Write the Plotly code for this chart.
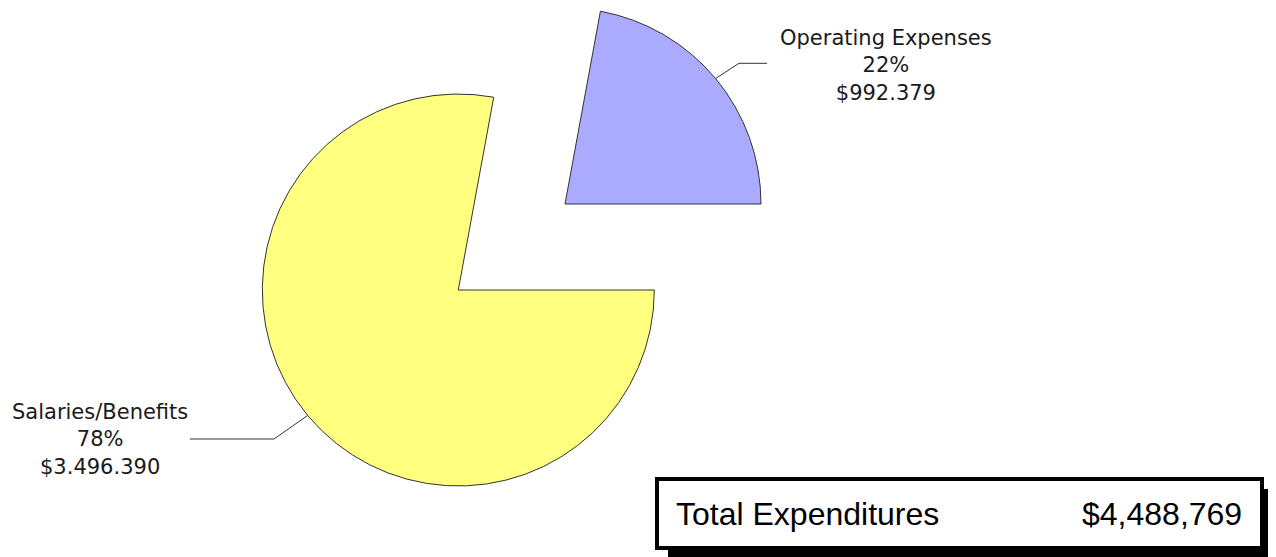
import math
import plotly.graph_objects as go

# ---- data ----
categories = ["Operating Expenses", "Salaries/Benefits"]
amounts = [992379, 3496390]
pct_labels = ["22%", "78%"]
amount_labels = ["$992.379", "$3.496.390"]
total_label = "Total Expenditures"
total_value = "$4,488,769"
colors = ["#AAAAFF", "#FFFF80"]

W, H = 1276, 557
OFF = 8  # page body margin in the browser
total = sum(amounts)
rotation = 90 - 360 * amounts[0] / total


def px(x):
    return (x - OFF) / W


def py(y):
    return 1 - (y - OFF) / H


def clamp(v):
    return min(1.0, max(0.0, v))


R = 196
main_c = (458.3, 290.0)      # centre of the main pie (screen px)
pull_c = (565.0, 204.0)      # centre of the pulled-out slice (screen px)

fig = go.Figure()


def pie_trace(center, show_idx):
    cx, cy = center
    fills = [colors[i] if i == show_idx else "rgba(0,0,0,0)" for i in range(len(amounts))]
    lines = ["#333333" if i == show_idx else "rgba(0,0,0,0)" for i in range(len(amounts))]
    widths = [1 if i == show_idx else 0 for i in range(len(amounts))]
    return go.Pie(
        labels=categories,
        values=amounts,
        sort=False,
        direction="clockwise",
        rotation=rotation,
        marker=dict(colors=fills, line=dict(color=lines, width=widths)),
        textinfo="none",
        hoverinfo="label+value+percent",
        domain=dict(x=[clamp(px(cx - R)), clamp(px(cx + R))],
                    y=[clamp(py(cy + R)), clamp(py(cy - R))]),
        showlegend=False,
    )


fig.add_trace(pie_trace(main_c, 1))
fig.add_trace(pie_trace(pull_c, 0))


# leader-line anchor points at the middle angle of each slice
def mid_point(center, idx):
    start = rotation + 360 * sum(amounts[:idx]) / total
    mid = start + 180 * amounts[idx] / total
    a = math.radians(mid)
    return center[0] + R * math.sin(a), center[1] - R * math.cos(a)


ox, oy = mid_point(pull_c, 0)
sx, sy = mid_point(main_c, 1)

shapes = [
    dict(type="path", xref="paper", yref="paper",
         path=f"M {px(ox)},{py(oy)} L {px(739)},{py(63.3)} L {px(767)},{py(63.3)}",
         line=dict(color="#333333", width=1)),
    dict(type="path", xref="paper", yref="paper",
         path=f"M {px(sx)},{py(sy)} L {px(274)},{py(439)} L {px(190)},{py(439)}",
         line=dict(color="#333333", width=1)),
    # shadow
    dict(type="rect", xref="paper", yref="paper",
         x0=px(668), x1=px(1284), y0=py(565), y1=py(489),
         fillcolor="black", line=dict(width=0)),
    # box
    dict(type="rect", xref="paper", yref="paper",
         x0=px(657), x1=px(1262), y0=py(548), y1=py(479),
         fillcolor="white", line=dict(color="black", width=4)),
]

label_font = dict(family="DejaVu Sans", size=21, color="#1a1a1a")
box_font = dict(family="Liberation Sans, Arial", size=32, color="black")
annotations = [
    dict(x=px(886), y=py(66), xref="paper", yref="paper", showarrow=False,
         xanchor="center", yanchor="middle", align="center",
         text=f"{categories[0]}<br>{pct_labels[0]}<br>{amount_labels[0]}", font=label_font),
    dict(x=px(100), y=py(439), xref="paper", yref="paper", showarrow=False,
         xanchor="center", yanchor="middle", align="center",
         text=f"{categories[1]}<br>{pct_labels[1]}<br>{amount_labels[1]}", font=label_font),
    dict(x=px(674), y=py(514), xref="paper", yref="paper", showarrow=False,
         xanchor="left", yanchor="middle", text=total_label, font=box_font),
    dict(x=px(1244), y=py(514), xref="paper", yref="paper", showarrow=False,
         xanchor="right", yanchor="middle", text=total_value, font=box_font),
]

fig.update_layout(
    width=W, height=H,
    margin=dict(l=0, r=0, t=0, b=0),
    paper_bgcolor="white", plot_bgcolor="white",
    shapes=shapes, annotations=annotations,
    showlegend=False,
)

fig.write_html("out.html")
